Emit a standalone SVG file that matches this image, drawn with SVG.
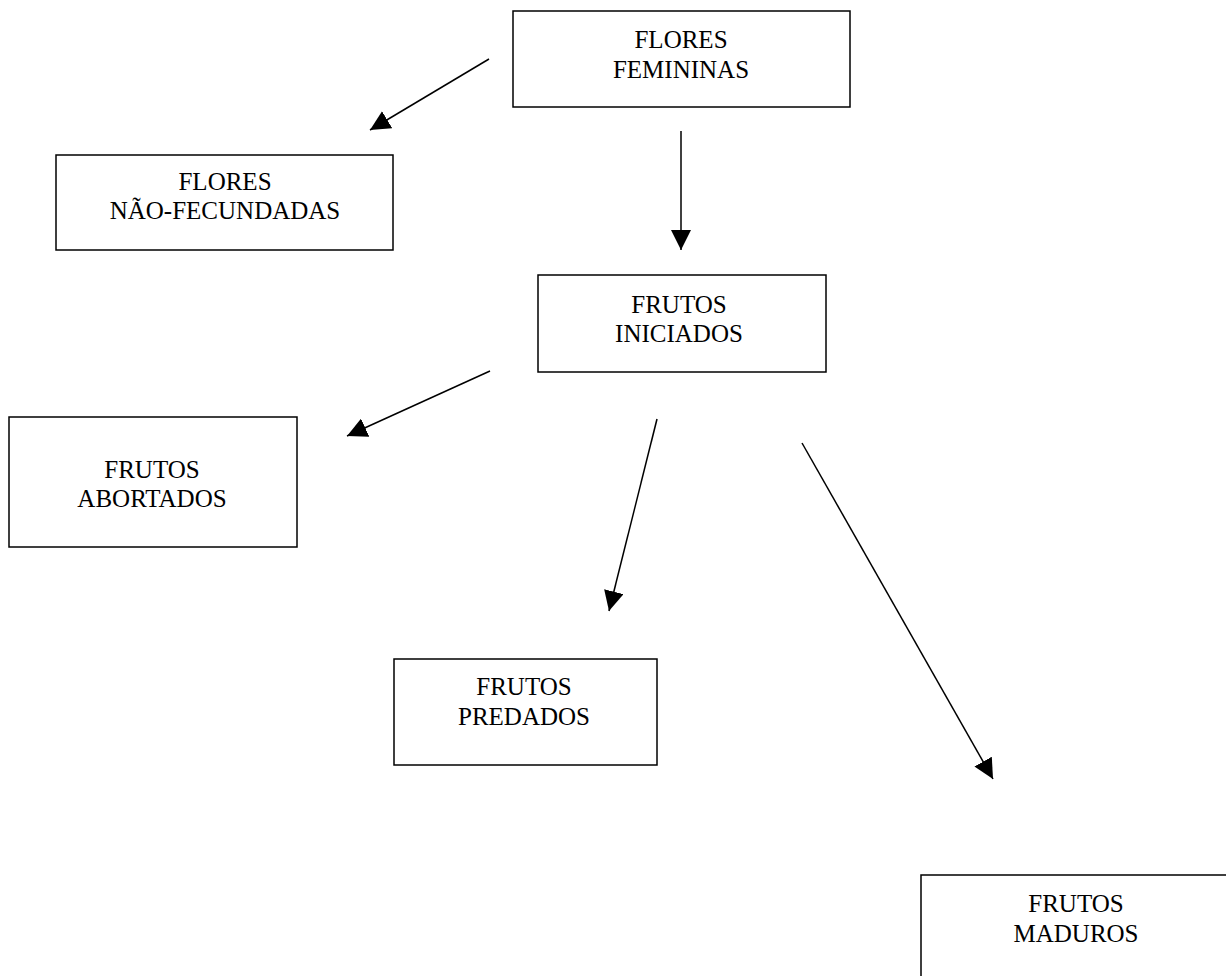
<svg xmlns="http://www.w3.org/2000/svg" width="1226" height="976" viewBox="0 0 1226 976">
<style>
.box{fill:#fff;stroke:#000;stroke-width:1.5}
.lbl{font-family:"Liberation Serif","Times New Roman",serif;font-size:25px;fill:#000;text-anchor:middle}
.con{stroke:#000;stroke-width:1.5;fill:none;marker-end:url(#ah)}
</style>
<defs>
<marker id="ah" markerUnits="userSpaceOnUse" markerWidth="20" markerHeight="20" refX="20" refY="10" orient="auto" viewBox="0 0 20 20">
<path d="M0,0 L20,10 L0,20 Z" fill="#000"/>
</marker>
</defs>
<rect width="1226" height="976" fill="#fff"/>
<g id="connectors">
<line class="con" x1="489" y1="59" x2="370" y2="130"/>
<line class="con" x1="681" y1="131" x2="681" y2="250"/>
<line class="con" x1="490" y1="371" x2="347" y2="436"/>
<line class="con" x1="657" y1="419" x2="609" y2="611"/>
<line class="con" x1="802" y1="443" x2="993" y2="779"/>
</g>
<g id="flores-femininas">
<rect class="box" x="513" y="11" width="337" height="96"/>
<text class="lbl" x="681" y="48">FLORES</text>
<text class="lbl" x="681" y="78">FEMININAS</text>
</g>
<g id="flores-nao-fecundadas">
<rect class="box" x="56" y="155" width="337" height="95"/>
<text class="lbl" x="225" y="190">FLORES</text>
<text class="lbl" x="225" y="219">NÃO-FECUNDADAS</text>
</g>
<g id="frutos-iniciados">
<rect class="box" x="538" y="275" width="288" height="97"/>
<text class="lbl" x="679" y="313">FRUTOS</text>
<text class="lbl" x="679" y="342">INICIADOS</text>
</g>
<g id="frutos-abortados">
<rect class="box" x="9" y="417" width="288" height="130"/>
<text class="lbl" x="152" y="478">FRUTOS</text>
<text class="lbl" x="152" y="507">ABORTADOS</text>
</g>
<g id="frutos-predados">
<rect class="box" x="394" y="659" width="263" height="106"/>
<text class="lbl" x="524" y="695">FRUTOS</text>
<text class="lbl" x="524" y="725">PREDADOS</text>
</g>
<g id="frutos-maduros">
<rect class="box" x="921" y="875" width="310" height="110"/>
<text class="lbl" x="1076" y="912">FRUTOS</text>
<text class="lbl" x="1076" y="942">MADUROS</text>
</g>
</svg>
